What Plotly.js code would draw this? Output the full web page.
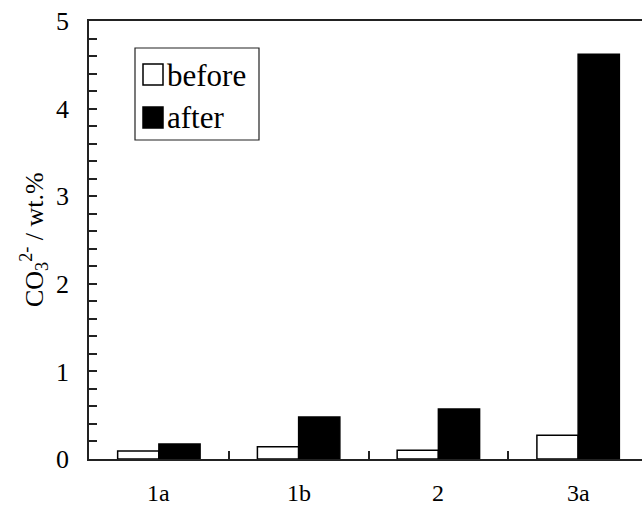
<!DOCTYPE html>
<html>
<head>
<meta charset="utf-8">
<script src="https://cdn.plot.ly/plotly-3.0.1.min.js"></script>
<style>
html, body { margin:0; padding:0; overflow:hidden; background:#fff; }
#chart { width:650px; height:509px; }
</style>
</head>
<body>
<div id="chart"></div>
<script>
const categories = ['1a', '1b', '2', '3a'];
const seriesNames = ['before', 'after'];
const beforeValues = [0.09, 0.14, 0.10, 0.27];
const afterValues = [0.17, 0.48, 0.57, 4.62];
const yTickVals = [0, 1, 2, 3, 4, 5];
const yTitle = 'CO<sub>3</sub><sup>2-</sup> / wt.%';

const FONT = 'Liberation Serif';
const W = 650, H = 509;
const M = {l: 89, r: 2, t: 21, b: 50};
const pw = W - M.l - M.r, ph = H - M.t - M.b;
const px = x => (x - M.l) / pw;
const py = y => (H - M.b - y) / ph;

const traces = [
  {type: 'bar', name: seriesNames[0], x: categories, y: beforeValues,
   marker: {color: '#ffffff', line: {color: '#000', width: 1.5}}, showlegend: false},
  {type: 'bar', name: seriesNames[1], x: categories, y: afterValues,
   marker: {color: '#000000', line: {color: '#000', width: 1.5}}, showlegend: false}
];

const shapes = [
  {type: 'rect', xref: 'paper', yref: 'paper', x0: px(135), x1: px(259), y0: py(140), y1: py(48),
   line: {color: '#222', width: 1.2}, fillcolor: 'rgba(0,0,0,0)'},
  {type: 'rect', xref: 'paper', yref: 'paper', x0: px(143), x1: px(163), y0: py(85), y1: py(64),
   line: {color: '#000', width: 1.5}, fillcolor: '#fff'},
  {type: 'rect', xref: 'paper', yref: 'paper', x0: px(143), x1: px(163), y0: py(128), y1: py(107),
   line: {color: '#000', width: 1.5}, fillcolor: '#000'}
];
const annotations = [
  {xref: 'paper', yref: 'paper', x: px(165), y: py(75), xanchor: 'left', yanchor: 'middle',
   text: seriesNames[0], showarrow: false, font: {family: FONT, size: 31, color: '#000'}},
  {xref: 'paper', yref: 'paper', x: px(165), y: py(118), xanchor: 'left', yanchor: 'middle',
   text: seriesNames[1], showarrow: false, font: {family: FONT, size: 31, color: '#000'}},
  {xref: 'paper', yref: 'paper', x: px(34), y: py(240), xanchor: 'center', yanchor: 'middle',
   text: yTitle, textangle: -90, showarrow: false, font: {family: FONT, size: 26, color: '#000'}}
].concat(categories.map(c => ({
  xref: 'x', yref: 'paper', x: c, y: py(493), xanchor: 'center', yanchor: 'middle',
  text: c, showarrow: false, font: {family: FONT, size: 24, color: '#000'}
})));

const layout = {
  width: W, height: H,
  margin: M,
  paper_bgcolor: '#fff', plot_bgcolor: '#fff',
  barmode: 'group', bargap: 0.41, bargroupgap: 0,
  showlegend: false,
  font: {family: FONT, color: '#000', size: 22},
  xaxis: {
    type: 'category', tickson: 'boundaries', ticks: 'inside', ticklen: 8, tickwidth: 1.5, tickcolor: '#222',
    showline: true, linecolor: '#222', linewidth: 1.5, mirror: true,
    showgrid: false, zeroline: false, showticklabels: false
  },
  yaxis: {
    range: [0, 5], tickvals: yTickVals, ticks: 'inside', ticklen: 8, tickwidth: 1.5, tickcolor: '#222',
    minor: {dtick: 0.2, ticks: 'inside', ticklen: 8, tickwidth: 1.5, tickcolor: '#222'},
    showline: true, linecolor: '#222', linewidth: 1.5, mirror: false,
    showgrid: false, zeroline: false,
    tickfont: {family: FONT, size: 26, color: '#000'}, ticklabelstandoff: 13
  },
  shapes: shapes,
  annotations: annotations
};

Plotly.newPlot('chart', traces, layout, {displayModeBar: false});
</script>
</body>
</html>
